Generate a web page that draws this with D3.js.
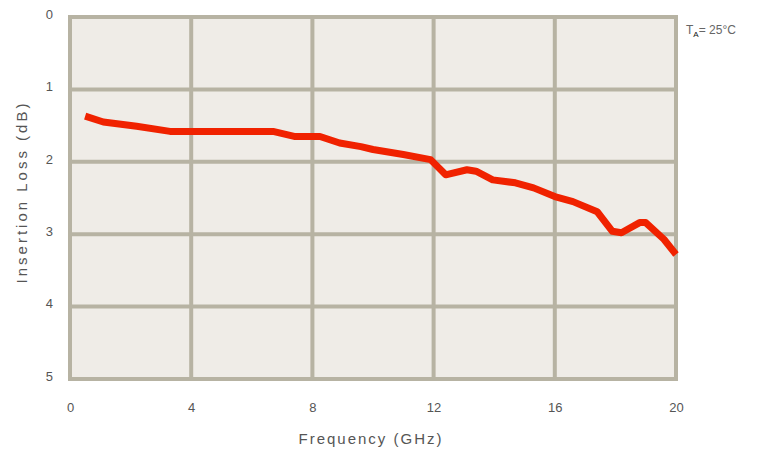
<!DOCTYPE html>
<html><head><meta charset="utf-8">
<script src="https://cdn.jsdelivr.net/npm/d3@7"></script>
<style>body{margin:0;background:#fff;}svg{display:block;}text{font-family:"Liberation Sans",Arial,sans-serif;}</style>
</head><body>
<svg id="c" width="770" height="455"></svg>
<script>
const freq = [0.5,1.1,2.2,3.3,5.0,6.7,7.4,8.25,8.9,9.6,10,11,11.9,12.4,13.1,13.4,13.95,14.7,15.3,16.0,16.6,17.4,17.9,18.2,18.8,19.0,19.6,20];
const loss = [1.37,1.45,1.51,1.58,1.58,1.58,1.65,1.65,1.74,1.79,1.83,1.9,1.97,2.18,2.11,2.13,2.25,2.29,2.36,2.48,2.55,2.69,2.96,2.98,2.84,2.84,3.07,3.28];
const xTicks = [0,4,8,12,16,20];
const yTicks = [0,1,2,3,4,5];

const svg = d3.select("#c");
const L=70,R=676,T=17,B=379;
const x = d3.scaleLinear().domain([0,20]).range([L,R]);
const y = d3.scaleLinear().domain([0,5]).range([T,B]);
const grid = "#b7b3a3";
svg.append("rect").attr("x",L).attr("y",T).attr("width",R-L).attr("height",B-T).attr("fill","#efece7");
svg.append("g").selectAll("line").data(xTicks).join("line")
  .attr("x1",d=>x(d)).attr("x2",d=>x(d)).attr("y1",T-2).attr("y2",B+2)
  .attr("stroke",grid).attr("stroke-width",4);
svg.append("g").selectAll("line").data(yTicks).join("line")
  .attr("y1",d=>y(d)).attr("y2",d=>y(d)).attr("x1",L-2).attr("x2",R+2)
  .attr("stroke",grid).attr("stroke-width",4);

const xa = svg.append("g").attr("transform",`translate(0,${B+24})`)
  .call(d3.axisBottom(x).tickValues(xTicks).tickFormat(d3.format("d")).tickSize(0).tickPadding(0));
xa.select(".domain").remove();
xa.selectAll("text").attr("font-size",13).attr("fill","#555").attr("font-family","Liberation Sans, Arial, sans-serif");
const ya = svg.append("g").attr("transform",`translate(${L-17},0)`)
  .call(d3.axisLeft(y).tickValues(yTicks).tickFormat(d3.format("d")).tickSize(0).tickPadding(0));
ya.select(".domain").remove();
ya.selectAll("text").attr("font-size",13).attr("fill","#555").attr("dy","0.1em").attr("font-family","Liberation Sans, Arial, sans-serif");

const data = freq.map((f,i)=>[f,loss[i]]);
svg.append("path").datum(data)
  .attr("d",d3.line().x(d=>x(d[0])).y(d=>y(d[1])))
  .attr("fill","none").attr("stroke","#f02200").attr("stroke-width",7)
  .attr("stroke-linejoin","round");

svg.append("text").attr("x",371).attr("y",444).attr("text-anchor","middle")
  .attr("font-size",15).attr("letter-spacing",2).attr("fill","#555").text("Frequency (GHz)");
svg.append("text").attr("transform","translate(27,192) rotate(-90)").attr("text-anchor","middle")
  .attr("font-size",15).attr("letter-spacing",3).attr("fill","#555").text("Insertion Loss (dB)");
const t = svg.append("text").attr("x",686).attr("y",34).attr("font-size",12).attr("fill","#666");
t.append("tspan").text("T");
t.append("tspan").attr("font-size",8).attr("dy",3).attr("fill","#111").text("A");
t.append("tspan").attr("dy",-3).text("= 25°C");
</script>
</body></html>
